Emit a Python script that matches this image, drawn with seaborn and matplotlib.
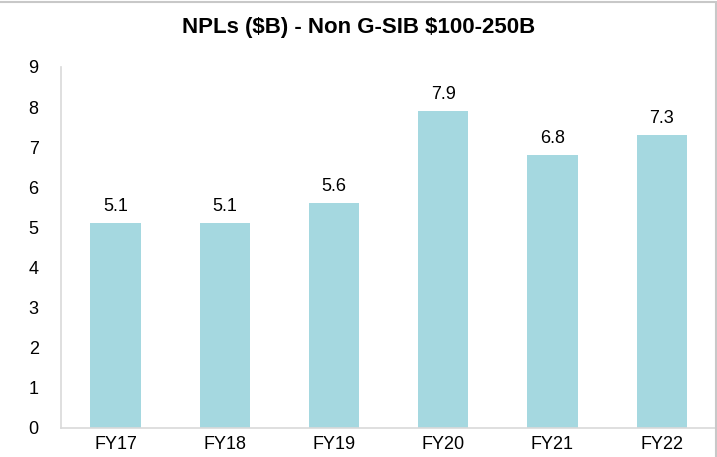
import matplotlib
matplotlib.use("Agg")
import matplotlib.pyplot as plt
import seaborn as sns
import pandas as pd
from matplotlib.patches import Rectangle

categories = ["FY17", "FY18", "FY19", "FY20", "FY21", "FY22"]
values = [5.1, 5.1, 5.6, 7.9, 6.8, 7.3]
labels = ["5.1", "5.1", "5.6", "7.9", "6.8", "7.3"]
yticks = [0, 1, 2, 3, 4, 5, 6, 7, 8, 9]

sns.set_style("white")
plt.rcParams["font.family"] = ["Liberation Sans", "DejaVu Sans"]

df = pd.DataFrame({"cat": categories, "val": values})

fig = plt.figure(figsize=(7.17, 4.57), dpi=100)
ax = fig.add_axes([0.085, 0.0635, 0.914, 0.79])
sns.barplot(data=df, x="cat", y="val", color="#A5D8E0", width=0.46, ax=ax,
            saturation=1, edgecolor="none")
for i, (v, l) in enumerate(zip(values, labels)):
    ax.text(i, v + 0.2, l, ha="center", va="bottom", fontsize=13, color="#000000")

ax.set_ylim(0, 9)
ax.set_xlim(-0.5, 5.5)
ax.set_yticks(yticks)
ax.set_yticklabels([str(t) for t in yticks], fontsize=13, color="#000000")
ax.tick_params(axis="x", labelsize=13, length=0, pad=6, labelcolor="#000000")
ax.tick_params(axis="y", length=0, pad=16)
ax.set_xlabel("")
ax.set_ylabel("")
for s in ["top", "right"]:
    ax.spines[s].set_visible(False)
for s in ["left", "bottom"]:
    ax.spines[s].set_color("#D9D9D9")
    ax.spines[s].set_linewidth(1.2)

fig.text(0.5, 0.94, "NPLs (\\$B) - Non G-SIB \\$100-250B", ha="center", va="center",
         fontsize=16, fontweight="bold", color="#000000")
fig.patches.append(Rectangle((-0.01, -0.01), 1.0086, 1.0056, transform=fig.transFigure,
                             fill=False, edgecolor="#C8C8C8", linewidth=1.5))
fig.savefig("out.png", dpi=100)
